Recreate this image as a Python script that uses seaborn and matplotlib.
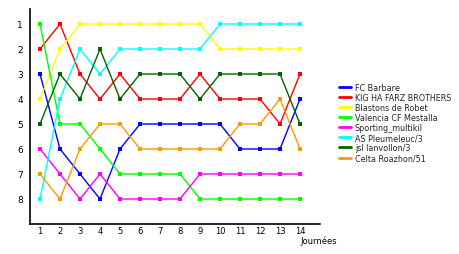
import matplotlib
matplotlib.use("Agg")
import matplotlib.pyplot as plt
from matplotlib.lines import Line2D
import seaborn as sns
import pandas as pd

rounds = list(range(1, 15))
teams = ["FC Barbare", "KIG HA FARZ BROTHERS", "Blastons de Robet", "Valencia CF Mestalla",
         "Sporting_multikil", "AS Pleumeleuc/3", "jsl lanvollon/3", "Celta Roazhon/51"]
fc_barbare = [3, 6, 7, 8, 6, 5, 5, 5, 5, 5, 6, 6, 6, 4]
kig_ha_farz = [2, 1, 3, 4, 3, 4, 4, 4, 3, 4, 4, 4, 5, 3]
blastons = [4, 2, 1, 1, 1, 1, 1, 1, 1, 2, 2, 2, 2, 2]
valencia = [1, 5, 5, 6, 7, 7, 7, 7, 8, 8, 8, 8, 8, 8]
sporting = [6, 7, 8, 7, 8, 8, 8, 8, 7, 7, 7, 7, 7, 7]
pleumeleuc = [8, 4, 2, 3, 2, 2, 2, 2, 2, 1, 1, 1, 1, 1]
lanvollon = [5, 3, 4, 2, 4, 3, 3, 3, 4, 3, 3, 3, 3, 5]
celta = [7, 8, 6, 5, 5, 6, 6, 6, 6, 6, 5, 5, 4, 6]
series = [fc_barbare, kig_ha_farz, blastons, valencia, sporting, pleumeleuc, lanvollon, celta]
colors = ["#0000FF", "#FF0000", "#FFFF00", "#00FF00", "#FF00FF", "#00FFFF", "#006400", "#FF9900"]
y_ticks = [1, 2, 3, 4, 5, 6, 7, 8]
x_label = "Journées"

rows = []
for t, vals in zip(teams, series):
    for r, v in zip(rounds, vals):
        rows.append({"Journée": r, "Rang": v, "Équipe": t})
df = pd.DataFrame(rows)

sns.set_theme(style="white")
plt.rcParams["font.family"] = ["DejaVu Sans"]

fig = plt.figure(figsize=(4.6, 2.55), dpi=100)
ax = fig.add_axes([30/460, 1-225/255, 290/460, 215/255])
palette = dict(zip(teams, colors))
sns.lineplot(data=df, x="Journée", y="Rang", hue="Équipe", hue_order=teams, palette=palette,
             marker="s", markersize=2.6, markeredgewidth=0, linewidth=1.0, legend=False, ax=ax)

ax.set_xlim(0.5, 15)
ax.set_ylim(9, 0.4)
ax.set_xticks(rounds)
ax.set_xticklabels([str(r) for r in rounds], fontsize=6)
ax.set_yticks(y_ticks)
ax.set_yticklabels([str(v) for v in y_ticks], fontsize=6.5)
ax.tick_params(axis="both", length=0, colors="black")
ax.tick_params(axis="y", pad=5)
ax.tick_params(axis="x", pad=1.5)
ax.set_xlabel("")
ax.set_ylabel("")
for s in ["top", "right"]:
    ax.spines[s].set_visible(False)
for s in ["left", "bottom"]:
    ax.spines[s].set_color("black")
    ax.spines[s].set_linewidth(1.2)
ax.grid(False)

fig.text(300/460, 1-241/255, x_label, fontsize=6, ha="left", va="center", color="black")

handles = [Line2D([0], [0], color=c, linewidth=2) for c in colors]
leg = fig.legend(handles, teams, loc="upper left", bbox_to_anchor=(339/460, 1-84/255),
                 frameon=False, fontsize=5.8, handlelength=1.45, handletextpad=0.5,
                 labelspacing=0.13, borderpad=0, borderaxespad=0)

fig.savefig("out.png", dpi=100)
